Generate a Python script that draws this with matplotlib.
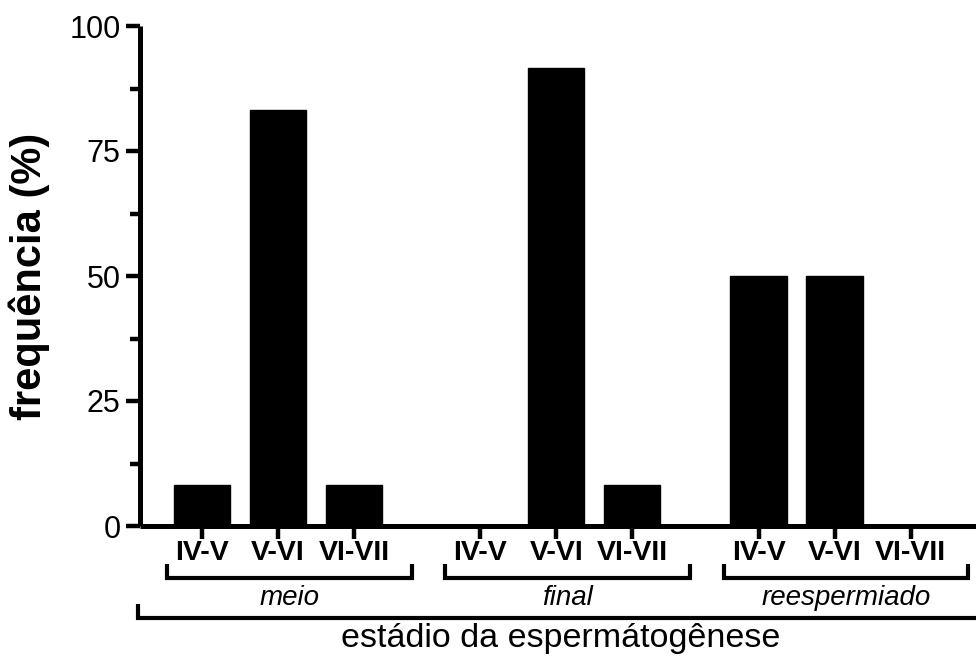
import numpy as np
import matplotlib.pyplot as plt
from matplotlib.ticker import MultipleLocator

plt.rcParams['font.family'] = ['Liberation Sans', 'DejaVu Sans']

groups = ['meio', 'final', 'reespermiado']
stages = ['IV-V', 'V-VI', 'VI-VII']
values = {
    'meio': [8.3, 83.3, 8.3],
    'final': [0.0, 91.7, 8.3],
    'reespermiado': [50.0, 50.0, 0.0],
}
group_gap = 0.66

fig = plt.figure(figsize=(9.76, 6.58), dpi=100)
ax = fig.add_axes([140/976, 132/658, 836/976, 500/658])

xpos = []
heights = []
labels = []
group_starts = []
for g, name in enumerate(groups):
    start = g * (len(stages) + group_gap)
    group_starts.append(start)
    for i, st in enumerate(stages):
        xpos.append(start + i)
        heights.append(values[name][i])
        labels.append(st)

ax.bar(xpos, heights, width=0.74, color='black', edgecolor='black')

ax.set_xlim(-0.816, 10.18)
ax.set_ylim(0, 100)
ax.spines['top'].set_visible(False)
ax.spines['right'].set_visible(False)
for s in ['left', 'bottom']:
    ax.spines[s].set_linewidth(3.6)
    ax.spines[s].set_capstyle('butt')

ax.yaxis.set_major_locator(MultipleLocator(25))
ax.yaxis.set_minor_locator(MultipleLocator(12.5))
ax.tick_params(axis='y', which='major', length=10, width=3.2, labelsize=22, pad=4)
ax.tick_params(axis='y', which='minor', length=7, width=3.2)
ax.set_xticks(xpos)
ax.set_xticklabels(labels, fontsize=20.5, fontweight='bold')
ax.tick_params(axis='x', which='major', length=9, width=3.2, pad=1)

ax.set_ylabel('frequência (%)', fontsize=30, fontweight='bold', labelpad=14)

# group brackets
kw = dict(color='black', lw=3, clip_on=False, solid_capstyle='butt',
          solid_joinstyle='miter')
for name, start in zip(groups, group_starts):
    x0 = start - 0.46
    x1 = start + len(stages) - 1 + 0.76
    ax.plot([x0, x0, x1, x1], [-7.6, -10.4, -10.4, -7.6], **kw)
    ax.text((x0 + x1) / 2, -14.4, name, fontsize=20, style='italic',
            ha='center', va='center')

ax.plot([-0.84, -0.84, 10.6], [-15.6, -18.3, -18.3], **kw)
ax.text(group_starts[1] + 1.06, -22.6, 'estádio da espermátogênese',
        fontsize=24.5, ha='center', va='center')

fig.savefig('out.png', dpi=100)
